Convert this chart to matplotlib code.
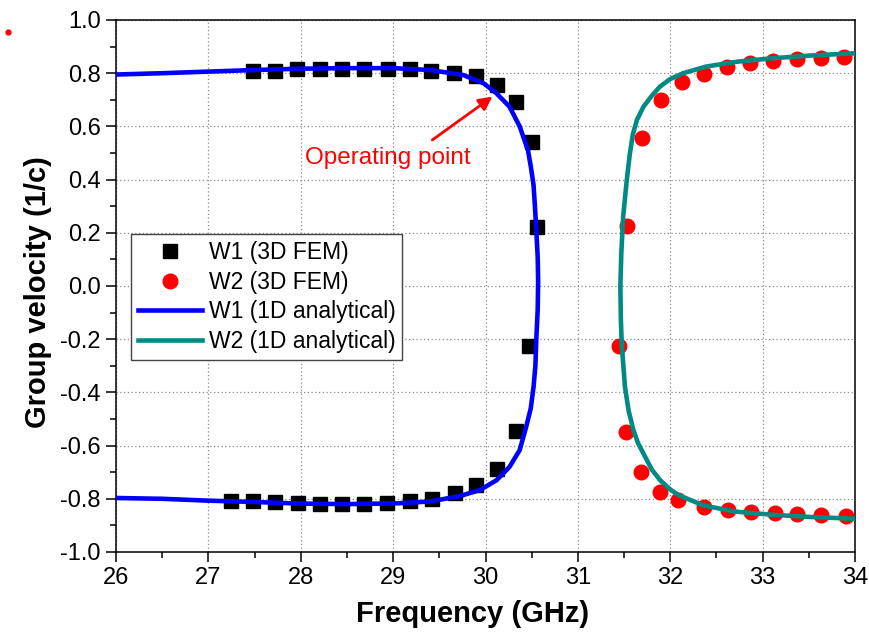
import matplotlib
matplotlib.use("Agg")
import matplotlib.pyplot as plt
from matplotlib.lines import Line2D
from matplotlib.ticker import MultipleLocator

# W1 (3D FEM) - black squares
w1_fem_f = [27.48, 27.72, 27.96, 28.21, 28.45, 28.69, 28.94, 29.18, 29.41, 29.66, 29.90, 30.12, 30.33, 30.50, 30.56,
            30.47, 30.33, 30.12, 29.90, 29.67, 29.42, 29.18, 28.93, 28.69, 28.45, 28.21, 27.97, 27.72, 27.48, 27.25]
w1_fem_v = [0.810, 0.810, 0.815, 0.815, 0.815, 0.815, 0.815, 0.815, 0.810, 0.800, 0.790, 0.755, 0.690, 0.540, 0.222,
            -0.224, -0.544, -0.688, -0.748, -0.780, -0.800, -0.810, -0.815, -0.818, -0.818, -0.818, -0.815, -0.812, -0.810, -0.808]

# W2 (3D FEM) - red circles
w2_fem_f = [33.88, 33.63, 33.37, 33.11, 32.86, 32.61, 32.36, 32.13, 31.90, 31.69, 31.53,
            31.45, 31.52, 31.68, 31.89, 32.08, 32.36, 32.62, 32.87, 33.13, 33.37, 33.63, 33.90]
w2_fem_v = [0.860, 0.856, 0.852, 0.846, 0.837, 0.822, 0.797, 0.766, 0.700, 0.555, 0.225,
            -0.225, -0.550, -0.700, -0.773, -0.805, -0.830, -0.842, -0.848, -0.855, -0.857, -0.860, -0.863]

# W1 (1D analytical) - blue line
w1_ana_f = [26.0, 26.5, 27.0, 27.5, 28.0, 28.5, 29.0, 29.4, 29.76, 29.98, 30.12, 30.26, 30.37, 30.46, 30.49,
            30.52, 30.535, 30.55, 30.565, 30.57, 30.565, 30.55, 30.54, 30.52, 30.49, 30.44, 30.37, 30.26,
            30.12, 29.94, 29.72, 29.4, 29.04, 28.5, 28.0, 27.5, 27.0, 26.5, 26.0]
w1_ana_v = [0.795, 0.800, 0.806, 0.812, 0.817, 0.819, 0.819, 0.812, 0.793, 0.762, 0.724, 0.674, 0.600, 0.510, 0.450,
            0.380, 0.300, 0.210, 0.110, 0.020, -0.090, -0.200, -0.300, -0.380, -0.460, -0.530, -0.617, -0.680,
            -0.730, -0.767, -0.790, -0.810, -0.817, -0.820, -0.818, -0.812, -0.807, -0.800, -0.797]

# W2 (1D analytical) - teal line
w2_ana_f = [34.0, 33.5, 33.1, 32.72, 32.39, 32.14, 32.0, 31.89, 31.8, 31.71, 31.64, 31.595, 31.56, 31.53, 31.49,
            31.47, 31.46, 31.465, 31.475, 31.51, 31.55, 31.6, 31.65, 31.71, 31.8, 31.89, 32.0, 32.09, 32.36, 32.7,
            33.1, 33.5, 34.0]
w2_ana_v = [0.875, 0.866, 0.856, 0.843, 0.825, 0.800, 0.778, 0.750, 0.715, 0.674, 0.625, 0.570, 0.490, 0.400, 0.260,
            0.120, 0.000, -0.120, -0.220, -0.380, -0.470, -0.540, -0.590, -0.630, -0.690, -0.730, -0.765, -0.786,
            -0.825, -0.848, -0.860, -0.868, -0.875]

plt.rcParams['font.family'] = ['Liberation Sans', 'DejaVu Sans']

fig = plt.figure(figsize=(8.69, 6.33), dpi=100)
ax = fig.add_axes([116 / 869, 1 - 552 / 633, 739 / 869, 532 / 633])

ax.plot(w1_fem_f, w1_fem_v, 's', color='black', ms=9.5, ls='none', label='W1 (3D FEM)', zorder=3)
ax.plot(w2_fem_f, w2_fem_v, 'o', color='#ff0000', ms=10.5, ls='none', label='W2 (3D FEM)', zorder=3)
ax.plot(w1_ana_f, w1_ana_v, color='#0000ff', lw=3.3, label='W1 (1D analytical)', zorder=4)
ax.plot(w2_ana_f, w2_ana_v, color='#008a84', lw=3.3, label='W2 (1D analytical)', zorder=4)

ax.set_xlim(26, 34)
ax.set_ylim(-1.0, 1.0)
ax.xaxis.set_major_locator(MultipleLocator(1))
ax.xaxis.set_minor_locator(MultipleLocator(0.5))
ax.yaxis.set_major_locator(MultipleLocator(0.2))
ax.yaxis.set_minor_locator(MultipleLocator(0.1))
ax.yaxis.set_major_formatter(matplotlib.ticker.FormatStrFormatter('%.1f'))

ax.grid(True, which='major', ls=(0, (1, 2)), color='#8a8a8a', lw=0.9)
ax.tick_params(which='major', direction='out', length=7, width=1.1, labelsize=17, pad=4)
ax.tick_params(which='minor', direction='out', length=4, width=1.1)
for s in ax.spines.values():
    s.set_linewidth(1.1)

ax.set_xlabel('Frequency (GHz)', fontsize=21, fontweight='bold')
ax.set_ylabel('Group velocity (1/c)', fontsize=21, fontweight='bold')
ax.xaxis.set_label_coords(0.482, -0.09)
ax.yaxis.set_label_coords(-0.087, 0.489)

# 工作点标注
ax.annotate('', xy=(30.10, 0.718), xytext=(29.40, 0.543),
            arrowprops=dict(arrowstyle='-|>', color='#ff0000', lw=2, mutation_scale=20))
ax.text(28.94, 0.48, 'Operating point', color='#ff0000', fontsize=17.5, ha='center', va='center')

leg = ax.legend(loc='upper left', bbox_to_anchor=(0.02, 0.598), borderaxespad=0, fontsize=16.5,
                fancybox=False, edgecolor='#444444', framealpha=1, handlelength=2.8, labelspacing=0.3,
                handletextpad=0.3, borderpad=0.3)
leg.get_frame().set_linewidth(1.0)

# 左上角的小红点
fig.add_artist(Line2D([8 / 869], [1 - 32 / 633], marker='o', color='#ff0000', ms=3.5, transform=fig.transFigure))

fig.savefig('out.png', dpi=100)
